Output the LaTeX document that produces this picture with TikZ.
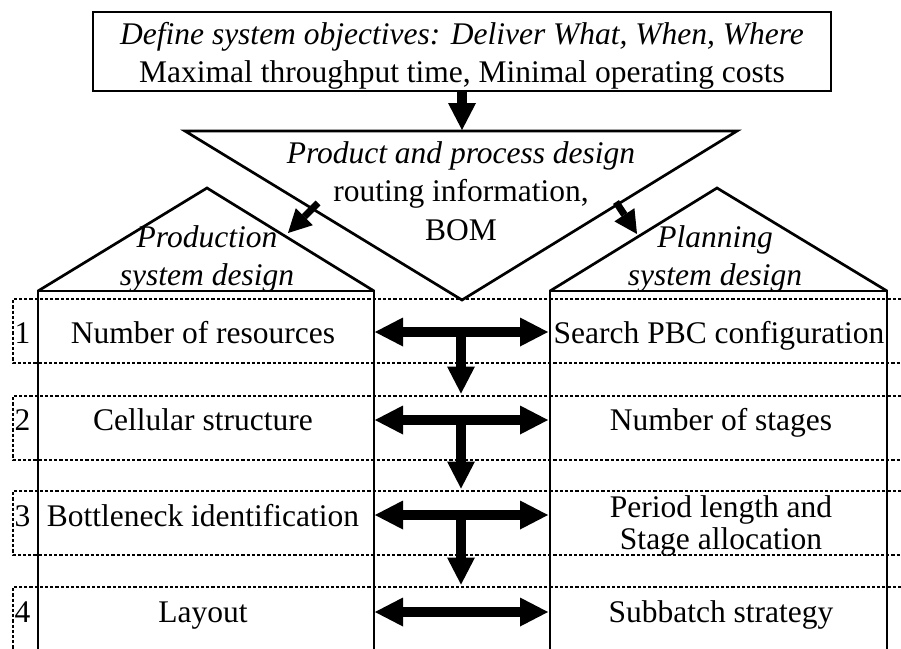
\documentclass[tikz,border=0pt]{standalone}
\usepackage{fontspec}
\setmainfont{Liberation Serif}
\usetikzlibrary{arrows.meta}
\newcommand{\bigtext}{\fontsize{31.5}{38}\selectfont}
\tikzset{
  outline/.style={draw=black,line width=2.7pt},
  wall/.style={draw=black,line width=2.4pt},
  dotband/.style={draw=black,line width=2.4pt,dash pattern=on 3.2pt off 2pt},
  txt/.style={anchor=base,inner sep=0pt,font=\bigtext},
  fat/.style={line width=10pt,-{Triangle[length=27pt,width=28pt,line width=0pt]}},
  fatboth/.style={line width=10.5pt,{Triangle[length=28pt,width=29pt,line width=0pt]}-{Triangle[length=28pt,width=29pt,line width=0pt]}},
  slim/.style={line width=7pt,-{Triangle[length=23pt,width=24pt,line width=0pt]}}
}
% one step band: #1 number, #2 top, #3 text baseline, #4 arrow height, #5 left text
\newcommand{\stageband}[5]{%
  \draw[dotband] (901,#2) -- (13,#2) -- (13,#2+64) -- (901,#2+64);
  \node[txt] (num#1) at (22.5,#3) {#1};
  \node[txt] (prod#1) at (203,#3) {#5};
  \coordinate (pw#1) at (375,#4);
  \coordinate (qw#1) at (548,#4);
  \coordinate (hub#1) at (461,#4);
  \coordinate (drop#1) at (461,#2-2.5);
  \draw[fatboth] (pw#1) -- (qw#1);
}
\begin{document}
\begin{tikzpicture}[x=1pt,y=-1pt]
  \useasboundingbox (0,0) rectangle (901,648);
  % stage bands
  \stageband{1}{299}{343}{332}{Number of resources}
  \stageband{2}{396}{430}{420}{Cellular structure}
  \stageband{3}{491}{526}{515}{Bottleneck identification}
  \stageband{4}{587}{622}{612}{Layout}
  \foreach \a/\b in {1/2,2/3,3/4}
    \draw[fat] (hub\a) -- (drop\b);
  % the two houses
  \draw[wall] (38,660) -- (38,291) -- (374,291) -- (374,660);
  \draw[outline] (38,291) -- (207,188) -- (374,291);
  \draw[wall] (550,660) -- (550,291) -- (887,291) -- (887,660);
  \draw[outline] (550,291) -- (717,188) -- (887,291);
  % objectives and product design
  \node[outline,minimum width=738pt,minimum height=79pt,inner sep=0pt] (obj) at (462,51.5) {};
  \draw[outline] (185,131) -- (737,131) -- (462,300) -- cycle;
  \coordinate (ppin) at (462,130);
  \draw[fat] (obj.south) -- (ppin);
  \coordinate (ppl) at (318,203);
  \coordinate (prodroof) at (288,233);
  \coordinate (ppr) at (616,202);
  \coordinate (planroof) at (637,234);
  \draw[slim] (ppl) -- (prodroof);
  \draw[slim] (ppr) -- (planroof);
  % texts
  \node[txt] (objtop) at (462,44) {\itshape Define system objectives: Deliver What, When, Where};
  \node[txt] (objbot) at (462,82) {Maximal throughput time, Minimal operating costs};
  \node[txt] (pp1) at (461,163) {\itshape Product and process design};
  \node[txt] (pp2) at (461,201) {routing information,};
  \node[txt] (pp3) at (461,240) {BOM};
  \node[txt] (psd1) at (207,247) {\itshape Production};
  \node[txt] (psd2) at (207,285) {\itshape system design};
  \node[txt] (pld1) at (715,247) {\itshape Planning};
  \node[txt] (pld2) at (715,285) {\itshape system design};
  \node[txt] (plan1) at (719,343) {Search PBC configuration};
  \node[txt] (plan2) at (721,430) {Number of stages};
  \node[txt] (plan3a) at (721,517) {Period length and};
  \node[txt] (plan3b) at (721,549) {Stage allocation};
  \node[txt] (plan4) at (721,622) {Subbatch strategy};
\end{tikzpicture}
\end{document}
